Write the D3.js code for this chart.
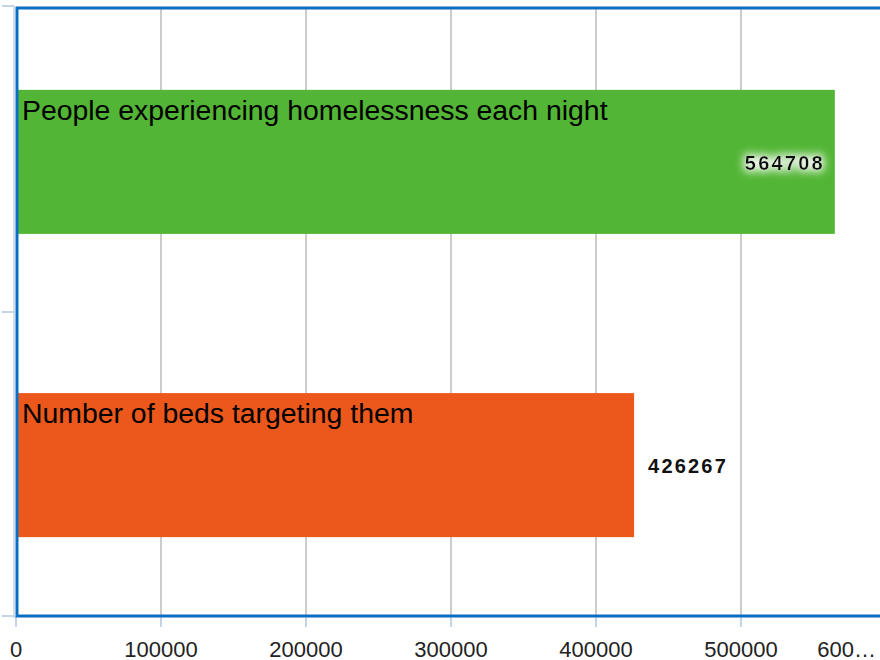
<!DOCTYPE html>
<html>
<head>
<meta charset="utf-8">
<script src="https://cdn.jsdelivr.net/npm/d3@7"></script>
<style>
  body { margin: 0; background: #fff; }
  svg { display: block; font-family: "Liberation Sans", Arial, sans-serif; }
</style>
</head>
<body>
<div id="chart"></div>
<script>
// chart data
var categories = ["People experiencing homelessness each night", "Number of beds targeting them"];
var values = [564708, 426267];
var colors = ["#52b535", "#ec581c"];
var tickValues = [0, 100000, 200000, 300000, 400000, 500000, 600000];
var tickLabels = ["0", "100000", "200000", "300000", "400000", "500000", "600…"];

var width = 880, height = 660;
var plot = { left: 16, top: 8, right: 886, bottom: 616 };

var svg = d3.select("#chart").append("svg")
    .attr("width", width)
    .attr("height", height);

var x = d3.scaleLinear().domain([0, 600000]).range([plot.left, plot.right]);
// bands sit a touch low in the original, hence the 1.5px nudge
var y = d3.scaleBand().domain(categories).range([plot.top + 1.5, plot.bottom + 1.5]).paddingInner(0.525).paddingOuter(0.265);

// gridlines
svg.selectAll(".grid")
  .data(tickValues.slice(1))
  .enter().append("line")
  .attr("class", "grid")
  .attr("x1", function(d){ return x(d); })
  .attr("x2", function(d){ return x(d); })
  .attr("y1", plot.top)
  .attr("y2", plot.bottom)
  .attr("stroke", "#cccccc")
  .attr("stroke-width", 2);

// light axis lines + ticks
svg.append("line")
  .attr("x1", plot.left - 2).attr("x2", plot.left - 2)
  .attr("y1", plot.top - 2).attr("y2", plot.bottom + 2)
  .attr("stroke", "#d6dde6").attr("stroke-width", 2);

svg.selectAll(".ytick")
  .data([plot.top - 2, (plot.top + plot.bottom) / 2, plot.bottom])
  .enter().append("line")
  .attr("x1", 2).attr("x2", plot.left - 2)
  .attr("y1", function(d){ return d; }).attr("y2", function(d){ return d; })
  .attr("stroke", "#c5d5e8").attr("stroke-width", 2);

svg.selectAll(".xtick")
  .data(tickValues)
  .enter().append("line")
  .attr("x1", function(d){ return x(d); })
  .attr("x2", function(d){ return x(d); })
  .attr("y1", plot.bottom).attr("y2", plot.bottom + 11)
  .attr("stroke", "#c5d5e8").attr("stroke-width", 2);

// bars
var bars = svg.selectAll(".bar")
  .data(categories)
  .enter().append("g")
  .attr("class", "bar");

bars.append("rect")
  .attr("x", x(0))
  .attr("y", function(d){ return y(d); })
  .attr("width", function(d, i){ return x(values[i]) - x(0); })
  .attr("height", y.bandwidth())
  .attr("fill", function(d, i){ return colors[i]; });

// category label inside bar
bars.append("text")
  .attr("x", x(0) + 6)
  .attr("y", function(d){ return y(d) + 30; })
  .attr("font-size", 28.4)
  .attr("fill", "#000")
  .text(function(d){ return d; });

// glow filter for value inside bar
var defs = svg.append("defs");
var glow = defs.append("filter").attr("id", "glow").attr("x", "-30%").attr("y", "-60%").attr("width", "160%").attr("height", "220%");
glow.append("feMorphology").attr("in", "SourceAlpha").attr("operator", "dilate").attr("radius", 2).attr("result", "d");
glow.append("feGaussianBlur").attr("in", "d").attr("stdDeviation", 4).attr("result", "b");
glow.append("feFlood").attr("flood-color", "#ffffff").attr("flood-opacity", 0.9);
glow.append("feComposite").attr("in2", "b").attr("operator", "in").attr("result", "g");
var merge = glow.append("feMerge");
merge.append("feMergeNode").attr("in", "g");
merge.append("feMergeNode").attr("in", "SourceGraphic");

bars.append("text")
  .attr("x", function(d, i){ return i == 0 ? x(values[i]) - 10 : x(values[i]) + 14; })
  .attr("y", function(d){ return y(d) + y.bandwidth() / 2 + 8; })
  .attr("text-anchor", function(d, i){ return i == 0 ? "end" : "start"; })
  .attr("font-size", 20)
  .attr("font-weight", "bold")
  .attr("letter-spacing", 2.2)
  .attr("fill", "#111")
  .attr("filter", function(d, i){ return i == 0 ? "url(#glow)" : null; })
  .text(function(d, i){ return values[i]; });

// plot border
svg.append("rect")
  .attr("x", plot.left + 1)
  .attr("y", plot.top)
  .attr("width", plot.right - plot.left)
  .attr("height", plot.bottom - plot.top)
  .attr("fill", "none")
  .attr("stroke", "#0a6fc2")
  .attr("stroke-width", 3);

// x labels
svg.selectAll(".xlabel")
  .data(tickValues)
  .enter().append("text")
  .attr("x", function(d, i){ return i == tickValues.length - 1 ? width - 4 : x(d); })
  .attr("y", 657)
  .attr("text-anchor", function(d, i){ return i == tickValues.length - 1 ? "end" : "middle"; })
  .attr("font-size", 22)
  .attr("fill", "#222")
  .text(function(d, i){ return tickLabels[i]; });
</script>
</body>
</html>
